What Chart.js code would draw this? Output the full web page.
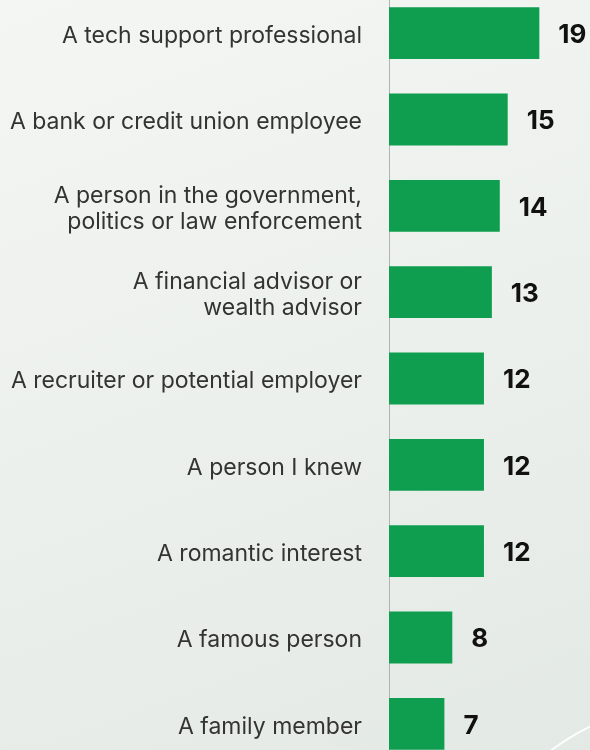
<!DOCTYPE html>
<html>
<head>
<meta charset="utf-8">
<script src="https://cdn.jsdelivr.net/npm/chart.js@4/dist/chart.umd.min.js"></script>
<style>
    html, body {
        margin: 0;
        padding: 0;
        width: 590px;
        height: 750px;
        overflow: hidden;
    }
    body {
        position: relative;
        background: linear-gradient(160deg, #f3f6f3 0%, #edf1ee 45%, #e3e9e4 100%);
    }
    .ring {
        position: absolute;
        left: 450px;
        top: 700px;
        width: 500px;
        height: 500px;
        border: 2px solid rgba(255, 255, 255, 0.9);
        border-radius: 50%;
        box-sizing: border-box;
    }
    .wrap {
        position: absolute;
        left: 0;
        top: -10px;
        width: 590px;
        height: 777px;
    }
</style>
</head>
<body>
<div class="ring"></div>
<div class="wrap"><canvas id="scamChart"></canvas></div>
<script>
const categories = [
    'A tech support professional',
    'A bank or credit union employee',
    ['A person in the government,', 'politics or law enforcement'],
    ['A financial advisor or', 'wealth advisor'],
    'A recruiter or potential employer',
    'A person I knew',
    'A romantic interest',
    'A famous person',
    'A family member'
]
const shares = [19, 15, 14, 13, 12, 12, 12, 8, 7]

// numbers printed at the end of each bar
const barValues = {
    id: 'barValues',
    afterDatasetsDraw(chart) {
        const ctx = chart.ctx
        const meta = chart.getDatasetMeta(0)
        ctx.save()
        ctx.fillStyle = '#111'
        ctx.font = 'bold 26px Inter'
        ctx.textBaseline = 'middle'
        meta.data.forEach((bar, i) => {
            ctx.fillText(shares[i], bar.x + 19, bar.y + 2)
        })
        ctx.restore()
    }
}

window.addEventListener("load", () => {
    const el = document.getElementById("scamChart")

    new Chart(el, {
        type: 'bar',
        data: {
            labels: categories,
            datasets: [{
                data: shares,
                backgroundColor: '#0f9e4f',
                borderWidth: 0,
                barPercentage: 0.6,
                categoryPercentage: 1
            }]
        },
        options: {
            indexAxis: 'y',
            responsive: true,
            maintainAspectRatio: false,
            animation: false,
            layout: { padding: 0 },
            scales: {
                x: {
                    display: false,
                    min: 0,
                    max: 25.4
                },
                y: {
                    afterFit: (scale) => {
                        // fixed label column, no extra room above/below the bars
                        scale.width = 389
                        scale.paddingTop = 0
                        scale.paddingBottom = 0
                    },
                    grid: { display: false },
                    border: { display: true, color: '#b0b4b1', width: 1 },
                    ticks: {
                        autoSkip: false,
                        padding: 19,
                        labelOffset: 3,
                        color: '#333',
                        font: { family: 'Inter', size: 23, lineHeight: 1.15 }
                    }
                }
            },
            plugins: {
                legend: { display: false },
                tooltip: { enabled: false }
            }
        },
        plugins: [barValues]
    });
});
</script>
</body>
</html>
